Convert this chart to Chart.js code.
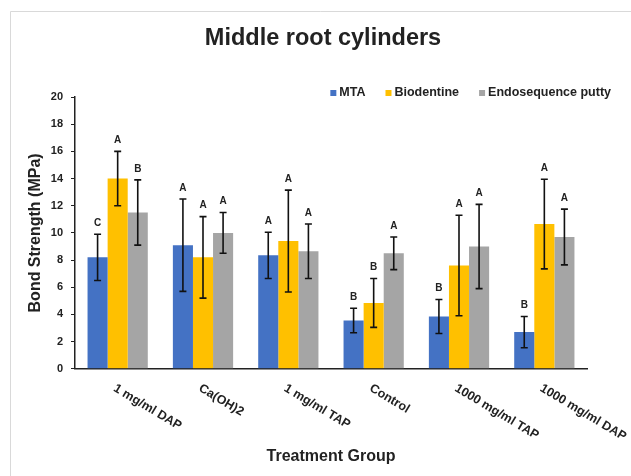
<!DOCTYPE html>
<html>
<head>
<meta charset="utf-8">
<script src="https://cdn.jsdelivr.net/npm/chart.js@4"></script>
<style>
    body { margin: 0; background: #fff; }
    #wrap { width: 631px; height: 476px; }
</style>
</head>
<body>
<div id="wrap"><canvas id="chart" width="631" height="476"></canvas></div>
<script>
const categories = ["1 mg/ml DAP", "Ca(OH)2", "1 mg/ml TAP", "Control", "1000 mg/ml TAP", "1000 mg/ml DAP"];
const seriesNames = ["MTA", "Biodentine", "Endosequence putty"];

const mta = [8.2, 9.1, 8.35, 3.55, 3.85, 2.7];
const mtaErr = [1.7, 3.4, 1.7, 0.9, 1.25, 1.15];
const mtaLetters = ["C", "A", "A", "B", "B", "B"];

const bio = [14.0, 8.2, 9.4, 4.85, 7.6, 10.65];
const bioErr = [2.0, 3.0, 3.75, 1.8, 3.7, 3.3];
const bioLetters = ["A", "A", "A", "B", "A", "A"];

const endo = [11.5, 10.0, 8.65, 8.5, 9.0, 9.7];
const endoErr = [2.4, 1.5, 2.0, 1.2, 3.1, 2.05];
const endoLetters = ["B", "A", "A", "A", "A", "A"];

const colors = ["#4472C4", "#FFC000", "#A5A5A5"];
const errs = [mtaErr, bioErr, endoErr];
const letters = [mtaLetters, bioLetters, endoLetters];

Chart.defaults.font.family = "'Liberation Sans', Arial, sans-serif";
Chart.defaults.color = "#222";

const decor = {
    id: "decor",
    beforeDraw(chart) {
        const ctx = chart.ctx;
        ctx.save();
        ctx.fillStyle = "#fff";
        ctx.fillRect(0, 0, chart.width, chart.height);
        // light frame
        ctx.strokeStyle = "#d9d9d9";
        ctx.lineWidth = 1;
        ctx.beginPath();
        ctx.moveTo(10.5, chart.height);
        ctx.lineTo(10.5, 11.5);
        ctx.lineTo(chart.width, 11.5);
        ctx.stroke();
        ctx.restore();
    },
    afterDatasetsDraw(chart) {
        const ctx = chart.ctx;
        const y = chart.scales.y;
        ctx.save();
        chart.data.datasets.forEach((ds, i) => {
            const meta = chart.getDatasetMeta(i);
            meta.data.forEach((bar, j) => {
                const v = ds.data[j], e = errs[i][j];
                const top = y.getPixelForValue(v + e);
                const bot = y.getPixelForValue(v - e);
                ctx.strokeStyle = "#111";
                ctx.lineWidth = 1.6;
                ctx.beginPath();
                ctx.moveTo(bar.x, top);
                ctx.lineTo(bar.x, bot);
                ctx.moveTo(bar.x - 3.5, top);
                ctx.lineTo(bar.x + 3.5, top);
                ctx.moveTo(bar.x - 3.5, bot);
                ctx.lineTo(bar.x + 3.5, bot);
                ctx.stroke();
                // significance letter
                ctx.fillStyle = "#222";
                ctx.font = "bold 10px 'Liberation Sans', Arial, sans-serif";
                ctx.textAlign = "center";
                ctx.textBaseline = "middle";
                ctx.fillText(letters[i][j], bar.x, top - 11);
            });
        });
        ctx.restore();
    },
    afterDraw(chart) {
        const ctx = chart.ctx;
        const x = chart.scales.x;
        ctx.save();
        // main title
        ctx.fillStyle = "#222";
        ctx.font = "bold 23.5px 'Liberation Sans', Arial, sans-serif";
        ctx.textAlign = "center";
        ctx.textBaseline = "middle";
        ctx.fillText("Middle root cylinders", 323, 39);

        // legend
        ctx.font = "bold 12.5px 'Liberation Sans', Arial, sans-serif";
        ctx.textAlign = "left";
        const box = 6, gap = 3, spacing = 20;
        const widths = seriesNames.map(n => ctx.measureText(n).width);
        let total = widths.reduce((a, b) => a + b, 0) + seriesNames.length * (box + gap) + spacing * (seriesNames.length - 1);
        let lx = 611 - total;
        const ly = 93;
        seriesNames.forEach((n, i) => {
            ctx.fillStyle = colors[i];
            ctx.fillRect(lx, ly - box / 2, box, box);
            ctx.fillStyle = "#222";
            ctx.fillText(n, lx + box + gap, ly);
            lx += box + gap + widths[i] + spacing;
        });

        // rotated category labels
        ctx.font = "bold 12.5px 'Liberation Sans', Arial, sans-serif";
        ctx.textBaseline = "top";
        categories.forEach((c, i) => {
            const px = x.getPixelForValue(i);
            ctx.save();
            ctx.translate(px, 382);
            ctx.rotate(31 * Math.PI / 180);
            ctx.fillStyle = "#222";
            ctx.fillText(c, 0, 0);
            ctx.restore();
        });
        ctx.restore();
    }
};

new Chart(document.getElementById("chart"), {
    type: "bar",
    data: {
        labels: categories,
        datasets: [
            { label: seriesNames[0], data: mta, backgroundColor: colors[0] },
            { label: seriesNames[1], data: bio, backgroundColor: colors[1] },
            { label: seriesNames[2], data: endo, backgroundColor: colors[2] }
        ]
    },
    options: {
        responsive: false,
        animation: false,
        layout: { padding: { left: 14, right: 44, top: 97, bottom: 0 } },
        datasets: {
            bar: { categoryPercentage: 0.706, barPercentage: 1.0, borderWidth: 0 }
        },
        scales: {
            x: {
                grid: { display: false, drawTicks: false },
                border: { display: true, color: "#222", width: 1.5 },
                ticks: { display: false },
                title: {
                    display: true,
                    text: "Treatment Group",
                    font: { size: 16, weight: "bold" },
                    color: "#222",
                    padding: { top: 78, bottom: 10 }
                }
            },
            y: {
                min: 0,
                max: 20,
                ticks: { stepSize: 2, padding: 8, font: { size: 11, weight: "bold" }, color: "#222" },
                grid: { drawOnChartArea: false, tickLength: 4, color: "#222" },
                border: { display: true, color: "#222", width: 1.5 },
                title: {
                    display: true,
                    text: "Bond Strength (MPa)",
                    font: { size: 16, weight: "bold" },
                    color: "#222",
                    padding: { top: 12 }
                },
                afterFit(scale) {
                    scale.width = 61;
                }
            }
        },
        plugins: {
            legend: { display: false },
            tooltip: { enabled: false },
            title: { display: false }
        }
    },
    plugins: [decor]
});
</script>
</body>
</html>
